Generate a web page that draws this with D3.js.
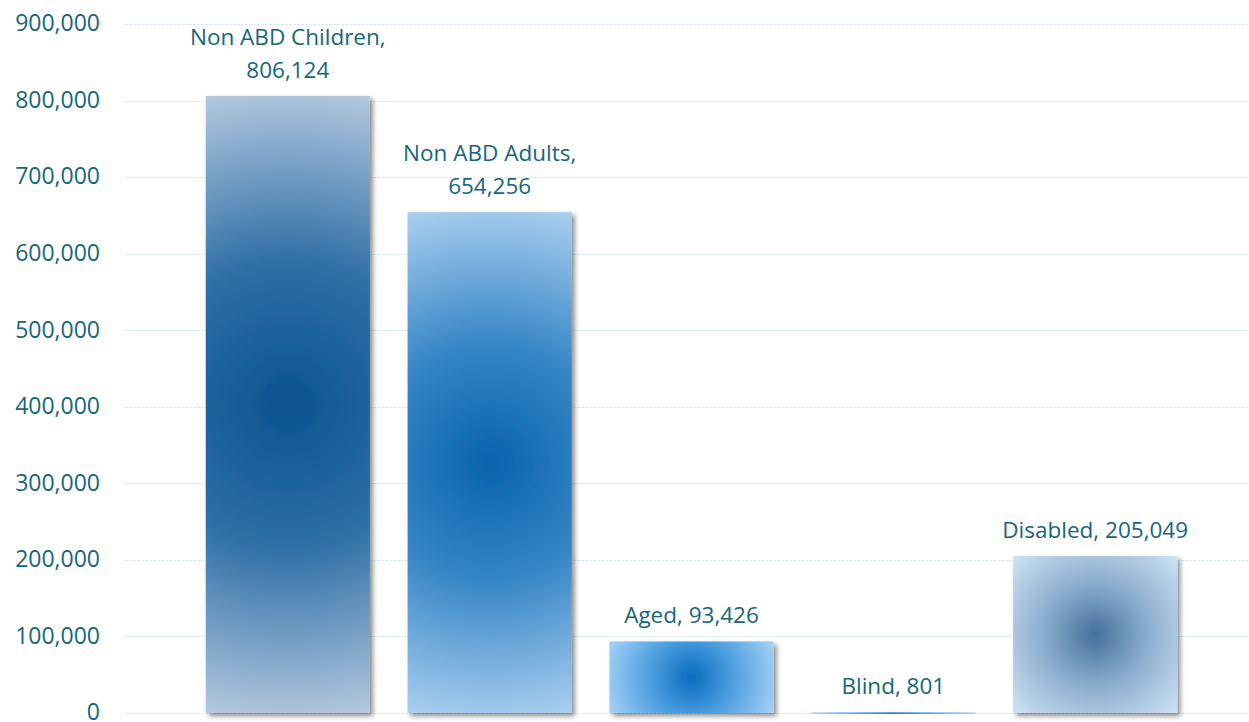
<!DOCTYPE html>
<html><head><meta charset="utf-8">
<script src="https://cdn.jsdelivr.net/npm/d3@7"></script>
<style>body{margin:0;background:#fff}svg{display:block}</style>
</head><body><svg id="c" width="1249" height="722"></svg>
<script>
const categories = ["Non ABD Children", "Non ABD Adults", "Aged", "Blind", "Disabled"];
const values = [806124, 654256, 93426, 801, 205049];
const labelLines = [["Non ABD Children,", "806,124"], ["Non ABD Adults,", "654,256"], ["Aged, 93,426"], ["Blind, 801"], ["Disabled, 205,049"]];
const tickValues = [0, 100000, 200000, 300000, 400000, 500000, 600000, 700000, 800000, 900000];
const centerColors = ["#0a5490", "#0863ad", "#0a6cbf", "#0a6cbf", "#44709c"];
const midColors = ["#2f6fa6", "#3686c6", "#4a9ddf", "#4a9ddf", "#8aaccc"];
const edgeColors = ["#b4c9df", "#abcfef", "#a6d1f6", "#a6d1f6", "#cfe3f6"];

const svg = d3.select("#c");
const textColor = "#17667c";
const font = "'Open Sans', sans-serif";
const y = d3.scaleLinear().domain([0, 900000]).range([713, 24]);
const x = d3.scaleBand().domain(categories).range([187, 1196]).paddingInner(0.187).paddingOuter(0.093);

const defs = svg.append("defs");
const f = defs.append("filter").attr("id", "sh").attr("x", "-10%").attr("y", "-10%").attr("width", "130%").attr("height", "130%");
f.append("feDropShadow").attr("dx", 3).attr("dy", 3).attr("stdDeviation", 2.5).attr("flood-color", "#000").attr("flood-opacity", 0.45);

// gridlines
svg.append("g").selectAll("line").data(tickValues).join("line")
  .attr("x1", 125).attr("x2", 1249)
  .attr("y1", d => Math.round(y(d)) + 0.5).attr("y2", d => Math.round(y(d)) + 0.5)
  .attr("stroke", "#cdeef8").attr("stroke-width", 1).attr("stroke-dasharray", "3,1");

// y tick labels
svg.append("g").selectAll("text").data(tickValues).join("text")
  .attr("x", 100).attr("y", d => y(d) - 1).attr("dy", "0.36em")
  .attr("text-anchor", "end").attr("fill", textColor)
  .style("font-family", font).style("font-size", "23px")
  .text(d => d3.format(",")(d));

// gradients
categories.forEach((c, i) => {
  const x0 = x(c), w = x.bandwidth();
  const y0 = y(values[i]), h = y(0) - y0;
  const r = Math.max(Math.sqrt(w * w + h * h) / 2, 4);
  const g = defs.append("radialGradient").attr("id", "g" + i)
    .attr("gradientUnits", "userSpaceOnUse")
    .attr("cx", x0 + w / 2).attr("cy", y0 + h / 2).attr("r", r);
  g.append("stop").attr("offset", "0%").attr("stop-color", centerColors[i]);
  g.append("stop").attr("offset", "45%").attr("stop-color", midColors[i]);
  g.append("stop").attr("offset", "100%").attr("stop-color", edgeColors[i]);
});

// bars
svg.append("g").selectAll("rect").data(categories).join("rect")
  .attr("x", d => x(d)).attr("width", x.bandwidth())
  .attr("y", (d, i) => y(values[i]))
  .attr("height", (d, i) => Math.max(y(0) - y(values[i]), 1.5))
  .attr("fill", (d, i) => "url(#g" + i + ")")
  .attr("filter", (d, i) => values[i] > 5000 ? "url(#sh)" : null);

// labels
const lg = svg.append("g");
categories.forEach((c, i) => {
  const cx = x(c) + x.bandwidth() / 2;
  const top = y(values[i]);
  const lines = labelLines[i];
  const t = lg.append("text").attr("text-anchor", "middle").attr("fill", textColor)
    .style("font-family", font).style("font-size", "22.5px");
  lines.forEach((l, k) => {
    t.append("tspan").attr("x", cx)
      .attr("y", top - 18 - (lines.length - 1 - k) * 33)
      .text(l);
  });
});
</script></body></html>
